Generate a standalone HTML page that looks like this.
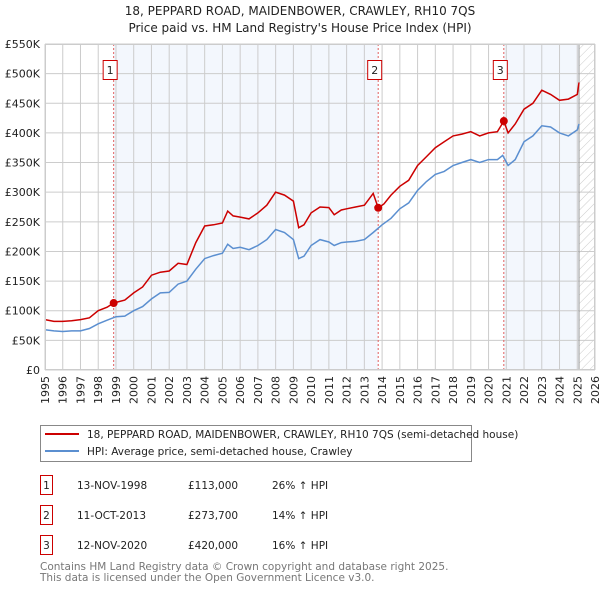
<!DOCTYPE html>
<html><head><meta charset="utf-8">
<style>
body{margin:0;background:#fff;font-family:"DejaVu Sans","Liberation Sans",sans-serif;}
svg text{font-family:"DejaVu Sans","Liberation Sans",sans-serif;}
</style></head>
<body>
<svg id="chart" width="600" height="590" xmlns="http://www.w3.org/2000/svg">
<text x="300" y="15" text-anchor="middle" font-size="12" fill="#222">18, PEPPARD ROAD, MAIDENBOWER, CRAWLEY, RH10 7QS</text>
<text x="300" y="32" text-anchor="middle" font-size="12" fill="#222">Price paid vs. HM Land Registry's House Price Index (HPI)</text>
<defs><pattern id="hatch" width="6" height="6" patternUnits="userSpaceOnUse" patternTransform="rotate(45)"><line x1="0" y1="0" x2="0" y2="6" stroke="#ccc" stroke-width="1"/></pattern></defs>
<g id="plot"></g>
<g>
<rect x="40.5" y="425.5" width="431" height="36" fill="#fff" stroke="#888"/>
<line x1="45" y1="434" x2="79" y2="434" stroke="#cc0000" stroke-width="2"/>
<text x="87" y="438" font-size="10.5" fill="#222">18, PEPPARD ROAD, MAIDENBOWER, CRAWLEY, RH10 7QS (semi-detached house)</text>
<line x1="45" y1="451" x2="79" y2="451" stroke="#5b8fd0" stroke-width="2"/>
<text x="87" y="455" font-size="10.5" fill="#222">HPI: Average price, semi-detached house, Crawley</text>
</g>
<g font-size="10.5" fill="#222">
<rect x="40.5" y="475.5" width="12" height="19" fill="#fff" stroke="#cc0000"/><text x="46.5" y="489" text-anchor="middle">1</text>
<text x="77" y="489">13-NOV-1998</text><text x="188" y="489">£113,000</text><text x="272" y="489">26% ↑ HPI</text>
<rect x="40.5" y="505.5" width="12" height="19" fill="#fff" stroke="#cc0000"/><text x="46.5" y="519" text-anchor="middle">2</text>
<text x="77" y="519">11-OCT-2013</text><text x="188" y="519">£273,700</text><text x="272" y="519">14% ↑ HPI</text>
<rect x="40.5" y="535.5" width="12" height="19" fill="#fff" stroke="#cc0000"/><text x="46.5" y="549" text-anchor="middle">3</text>
<text x="77" y="549">12-NOV-2020</text><text x="188" y="549">£420,000</text><text x="272" y="549">16% ↑ HPI</text>
</g>
<text x="40" y="570" font-size="10.5" fill="#777">Contains HM Land Registry data © Crown copyright and database right 2025.</text>
<text x="40" y="581" font-size="10.5" fill="#777">This data is licensed under the Open Government Licence v3.0.</text>
</svg>
<script>
const yTicks=[0,50,100,150,200,250,300,350,400,450,500,550];
const yTickLabels=["£0","£50K","£100K","£150K","£200K","£250K","£300K","£350K","£400K","£450K","£500K","£550K"];
const xYears=[1995,1996,1997,1998,1999,2000,2001,2002,2003,2004,2005,2006,2007,2008,2009,2010,2011,2012,2013,2014,2015,2016,2017,2018,2019,2020,2021,2022,2023,2024,2025,2026];
const hpiT=[1995,1995.5,1996,1996.5,1997,1997.5,1998,1998.5,1999,1999.5,2000,2000.5,2001,2001.5,2002,2002.5,2003,2003.5,2004,2004.5,2005,2005.3,2005.6,2006,2006.5,2007,2007.5,2008,2008.5,2009,2009.3,2009.6,2010,2010.5,2011,2011.3,2011.7,2012,2012.5,2013,2013.5,2014,2014.5,2015,2015.5,2016,2016.5,2017,2017.5,2018,2018.5,2019,2019.5,2020,2020.5,2020.8,2021.1,2021.5,2022,2022.5,2023,2023.5,2024,2024.5,2025,2025.1];
const hpiV=[68,66,65,66,66,70,78,84,90,91,100,107,120,130,131,145,150,170,188,193,197,212,205,207,203,210,220,237,232,220,188,192,210,220,216,210,215,216,217,220,232,245,256,272,282,303,318,330,335,345,350,355,350,355,355,362,345,355,385,395,412,410,400,395,405,415];
const priceT=[1995,1995.5,1996,1996.5,1997,1997.5,1998,1998.5,1998.87,1999.5,2000,2000.5,2001,2001.5,2002,2002.5,2003,2003.5,2004,2004.5,2005,2005.3,2005.6,2006,2006.5,2007,2007.5,2008,2008.5,2009,2009.3,2009.6,2010,2010.5,2011,2011.3,2011.7,2012,2012.5,2013,2013.5,2013.78,2014.1,2014.5,2015,2015.5,2016,2016.5,2017,2017.5,2018,2018.5,2019,2019.5,2020,2020.5,2020.86,2021.1,2021.5,2022,2022.5,2023,2023.5,2024,2024.5,2025,2025.1];
const priceV=[85,82,82,83,85,88,100,106,113,118,130,140,160,165,167,180,178,215,243,245,248,268,260,258,255,265,278,300,295,285,240,245,265,275,274,262,270,272,275,278,298,273.7,280,295,310,320,345,360,375,385,395,398,402,395,400,402,420,400,415,440,450,472,465,455,457,465,485];
const saleT=[1998.87,2013.78,2020.86];
const saleV=[113,273.7,420];
const saleLabels=["1","2","3"];

const X0=45,X1=595,Y0=370,Y1=44;
const xs=t=>X0+(t-1995)/(2026-1995)*(X1-X0);
const ys=v=>Y0-v/550*(Y0-Y1);
const NS="http://www.w3.org/2000/svg";
const plot=document.getElementById('plot');
function mk(tag,attrs,parent){const e=document.createElementNS(NS,tag);for(const k in attrs)e.setAttribute(k,attrs[k]);(parent||plot).appendChild(e);return e;}

let bg=mk('rect',{x:X0,y:Y1,width:X1-X0,height:Y0-Y1,fill:'#fff'});


let s1=mk('rect',{x:xs(saleT[0]),y:Y1,width:xs(saleT[1])-xs(saleT[0]),height:Y0-Y1,fill:'#eef3fc',opacity:0.7});


let s2=mk('rect',{x:xs(saleT[2]),y:Y1,width:xs(2025.1)-xs(saleT[2]),height:Y0-Y1,fill:'#eef3fc',opacity:0.7});


let h=mk('rect',{x:xs(2025.1),y:Y1,width:X1-xs(2025.1),height:Y0-Y1,fill:'url(#hatch)'});



yTicks.forEach((v,i)=>{
 let l=mk('line',{x1:X0,x2:X1,y1:ys(v),y2:ys(v),stroke:'#ccc','stroke-width':1});
 
 
 let t=mk('text',{x:X0-5,y:ys(v)+4,'text-anchor':'end','font-size':11,fill:'#222'});
 t.textContent=yTickLabels[i];
 
 
});
xYears.forEach(yr=>{
 let l=mk('line',{x1:xs(yr),x2:xs(yr),y1:Y1,y2:Y0,stroke:'#ccc','stroke-width':1});
 
 
 let t=mk('text',{x:0,y:0,'text-anchor':'end','font-size':11,fill:'#222',transform:`translate(${xs(yr)+4},${Y0+6}) rotate(-90)`});
 t.textContent=yr;
 
 
});
let nl=mk('line',{x1:xs(2025.1),x2:xs(2025.1),y1:Y1,y2:Y0,stroke:'#999','stroke-width':1});



saleT.forEach((t,i)=>{
 let l=mk('line',{x1:xs(t),x2:xs(t),y1:Y1,y2:Y0,stroke:'#e06060','stroke-width':1,'stroke-dasharray':'2,2'});
 
 
});

const path=(T,V)=>T.map((t,i)=>(i?'L':'M')+xs(t).toFixed(1)+','+ys(V[i]).toFixed(1)).join('');
let hp=mk('path',{d:path(hpiT,hpiV),fill:'none',stroke:'#5b8fd0','stroke-width':1.5});


let pp=mk('path',{d:path(priceT,priceV),fill:'none',stroke:'#cc0000','stroke-width':1.5});



saleT.forEach((t,i)=>{
 let c=mk('circle',{cx:xs(t),cy:ys(saleV[i]),r:4,fill:'#cc0000'});
 
 
 let b=mk('rect',{x:xs(t)-10.5,y:60.5,width:14,height:19,fill:'#fff',stroke:'#cc0000'});
 
 
 let tx=mk('text',{x:xs(t)-3.5,y:74,'text-anchor':'middle','font-size':11,fill:'#222'});
 tx.textContent=saleLabels[i];
 
 
});
let fr=mk('rect',{x:X0+0.5,y:Y1+0.5,width:X1-X0-1,height:Y0-Y1-1,fill:'none',stroke:'#ccc'});


</script>
</body></html>
